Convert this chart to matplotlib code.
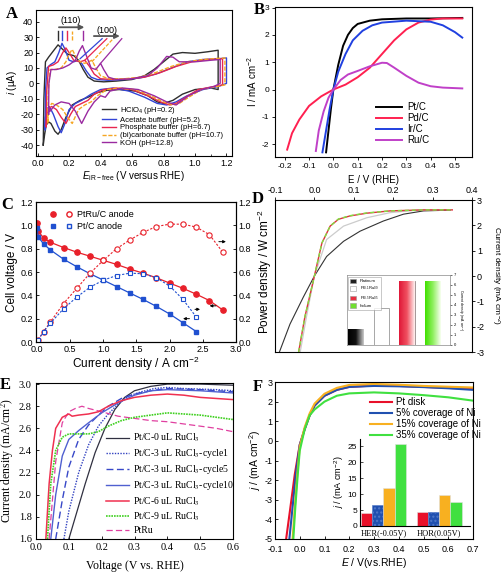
import matplotlib

matplotlib.use("Agg")

import matplotlib.pyplot as plt
import numpy as np
from matplotlib.colors import LinearSegmentedColormap
from matplotlib.font_manager import FontProperties
from matplotlib.legend_handler import HandlerTuple
from matplotlib.lines import Line2D
from matplotlib.patches import Patch
from matplotlib.ticker import FormatStrFormatter, MultipleLocator

SANS = "Liberation Sans"
SERIF = "Liberation Serif"
plt.rcParams["font.family"] = [SANS, "DejaVu Sans"]
plt.rcParams["mathtext.fontset"] = "custom"
plt.rcParams["mathtext.rm"] = SANS
plt.rcParams["mathtext.it"] = SANS + ":italic"
plt.rcParams["mathtext.bf"] = SANS + ":bold"
plt.rcParams["axes.unicode_minus"] = False
plt.rcParams["axes.linewidth"] = 0.8

# ---------------- A: CVs in different electrolytes (upper / lower branch)
a_labels = ["HClO$_4$ (pH=0.2)", "Acetate buffer (pH=5.2)", "Phosphate buffer (pH=6.7)",
            "(bi)carbonate buffer (pH=10.7)", "KOH (pH=12.8)"]
hclo4_x_up = [0.036, 0.04, 0.05, 0.07, 0.10, 0.13, 0.16, 0.19, 0.23, 0.26, 0.29, 0.32, 0.36, 0.42,
              0.50, 0.60, 0.68, 0.74, 0.80, 0.86, 0.92, 1.00, 1.08, 1.147]
hclo4_y_up = [-40, -10, 14, 17, 21, 25, 22, 19, 18, 15, 9, 4, 1.5, 1, 1.5, 2.5, 5, 9, 14, 19, 20,
              19.5, 20.5, 21.5]
hclo4_x_dn = [1.147, 1.10, 1.00, 0.92, 0.86, 0.80, 0.76, 0.70, 0.62, 0.52, 0.44, 0.38, 0.32, 0.27,
              0.22, 0.18, 0.15, 0.13, 0.11, 0.085, 0.07, 0.055, 0.045, 0.036]
hclo4_y_dn = [-4, -3, -4, -7, -11, -13, -12, -8, -5, -4, -4.5, -6, -9, -11, -14, -22, -30, -33,
              -31, -26, -25, -27, -33, -40]

acet_x_up = [0.048, 0.05, 0.06, 0.08, 0.11, 0.135, 0.155, 0.175, 0.20, 0.23, 0.26, 0.28, 0.31,
             0.34, 0.38, 0.45, 0.55, 0.65, 0.75, 0.85, 0.95, 1.05, 1.15, 1.20]
acet_y_up = [-30, -5, 10, 12, 14, 20, 26, 22, 15, 14, 15, 13, 8, 4, 2.5, 2, 2.5, 3.5, 6, 10, 14,
             15.5, 16, 16.5]
acet_x_dn = [1.20, 1.15, 1.05, 0.95, 0.88, 0.82, 0.76, 0.68, 0.58, 0.48, 0.40, 0.34, 0.28, 0.24,
             0.20, 0.17, 0.15, 0.13, 0.10, 0.08, 0.06, 0.05, 0.048]
acet_y_dn = [0, -2, -4, -8, -12, -14, -13, -9, -5, -3, -4, -7, -11, -13, -17, -27, -32, -28, -20,
             -16, -16, -22, -30]

phos_x_up = [0.055, 0.058, 0.07, 0.10, 0.13, 0.16, 0.18, 0.20, 0.23, 0.27, 0.30, 0.33, 0.36, 0.40,
             0.48, 0.58, 0.68, 0.78, 0.88, 0.98, 1.08, 1.175]
phos_y_up = [-28, -5, 11, 12, 14, 20, 23, 20, 15, 14, 15, 11, 6, 3, 2.5, 3, 4, 7, 11, 14, 15.5, 16]
phos_x_dn = [1.175, 1.12, 1.02, 0.94, 0.88, 0.84, 0.78, 0.70, 0.60, 0.50, 0.42, 0.36, 0.32, 0.28,
             0.24, 0.21, 0.18, 0.15, 0.12, 0.09, 0.07, 0.058, 0.055]
phos_y_dn = [-1, -2, -4, -9, -13, -14, -12, -8, -4, -3, -4, -7, -11, -13, -15, -20, -26, -22, -17,
             -15, -16, -22, -28]

carb_x_up = [0.065, 0.068, 0.08, 0.11, 0.15, 0.18, 0.20, 0.22, 0.24, 0.27, 0.30, 0.345, 0.37, 0.40,
             0.45, 0.55, 0.65, 0.75, 0.85, 0.95, 1.05, 1.19]
carb_y_up = [-26, -5, 9, 9, 10, 14, 19, 22, 18, 14, 13, 15, 10, 5, 3, 3, 4, 7, 11, 14, 15.5, 16.5]
carb_x_dn = [1.19, 1.14, 1.04, 0.96, 0.90, 0.86, 0.80, 0.72, 0.62, 0.52, 0.44, 0.38, 0.34, 0.30,
             0.26, 0.22, 0.19, 0.16, 0.12, 0.09, 0.07, 0.065]
carb_y_dn = [-1, -2, -4, -9, -13, -14, -12, -8, -4, -3, -4, -8, -12, -14, -17, -26, -22, -17, -14,
             -13, -16, -26]

koh_x_up = [0.07, 0.072, 0.085, 0.12, 0.16, 0.20, 0.24, 0.265, 0.285, 0.31, 0.34, 0.37, 0.40, 0.42,
            0.45, 0.50, 0.60, 0.70, 0.76, 0.82, 0.86, 0.90, 1.00, 1.10, 1.16]
koh_y_up = [-20, 0, 9, 9, 10, 12, 15, 21, 24.5, 18, 10, 9, 13, 9, 4, 2.5, 3, 5, 10, 17.5, 17, 14,
            14, 15, 15.5]
koh_x_dn = [1.16, 1.12, 1.04, 0.96, 0.92, 0.88, 0.82, 0.74, 0.64, 0.54, 0.46, 0.43, 0.40, 0.36,
            0.32, 0.28, 0.24, 0.20, 0.15, 0.11, 0.08, 0.072, 0.07]
koh_y_dn = [0, -2, -4, -8, -11, -14, -12, -8, -4, -3, -5, -9, -8, -12, -18, -26, -18, -13, -12,
            -14, -18, -15, -20]

peak110_x = [0.128, 0.155, 0.185, 0.22, 0.287]
guide100_x0 = [0.27, 0.30, 0.345, 0.40]
guide100_y0 = [16, 15, 14, 13]
guide100_x1 = [0.41, 0.44, 0.48, 0.535]
guide100_y1 = [29, 29, 29, 29]

# ---------------- B: HOR polarisation curves
b_labels = ["Pt/C", "Pd/C", "Ir/C", "Ru/C"]
pt_b_x = [-0.03, -0.02, -0.01, 0.0, 0.02, 0.04, 0.06, 0.08, 0.10, 0.15, 0.20, 0.30, 0.40, 0.53]
pt_b_y = [-2.3, -1.5, -0.7, 0.0, 0.9, 1.6, 2.0, 2.25, 2.4, 2.52, 2.57, 2.6, 2.6, 2.62]
pd_b_x = [-0.19, -0.17, -0.14, -0.10, -0.05, 0.0, 0.05, 0.10, 0.15, 0.20, 0.25, 0.30, 0.35, 0.40,
          0.45, 0.53]
pd_b_y = [-2.2, -1.6, -1.1, -0.6, -0.25, 0.0, 0.18, 0.45, 0.8, 1.3, 1.8, 2.2, 2.45, 2.56, 2.6, 2.6]
ir_b_x = [-0.045, -0.03, -0.015, 0.0, 0.02, 0.05, 0.08, 0.12, 0.16, 0.20, 0.30, 0.40, 0.45, 0.50,
          0.53]
ir_b_y = [-2.3, -1.5, -0.7, 0.0, 0.65, 1.3, 1.8, 2.15, 2.35, 2.45, 2.52, 2.48, 2.35, 2.1, 1.9]
ru_b_x = [-0.072, -0.06, -0.04, -0.02, 0.0, 0.03, 0.06, 0.10, 0.15, 0.20, 0.22, 0.25, 0.30, 0.35,
          0.40, 0.45, 0.53]
ru_b_y = [-2.25, -1.5, -0.8, -0.3, 0.0, 0.35, 0.55, 0.68, 0.85, 0.98, 0.97, 0.8, 0.5, 0.25, 0.12,
          0.07, 0.04]

# ---------------- C: fuel cell polarisation / power density
ptru_j = [0.0, 0.02, 0.1, 0.2, 0.4, 0.6, 0.8, 1.0, 1.2, 1.4, 1.6, 1.8, 2.0, 2.2, 2.4, 2.6, 2.8]
ptru_v = [1.02, 0.95, 0.89, 0.855, 0.81, 0.77, 0.735, 0.70, 0.665, 0.625, 0.59, 0.55, 0.505, 0.46,
          0.41, 0.355, 0.275]
ptru_pj = [0.02, 0.1, 0.2, 0.4, 0.6, 0.8, 1.0, 1.2, 1.4, 1.6, 1.8, 2.0, 2.2, 2.4, 2.6, 2.8]
ptru_p = [0.02, 0.09, 0.17, 0.33, 0.46, 0.59, 0.70, 0.80, 0.875, 0.94, 0.99, 1.01, 1.01, 0.985,
          0.92, 0.77]
ptc_j = [0.0, 0.02, 0.1, 0.2, 0.4, 0.6, 0.8, 1.0, 1.2, 1.4, 1.6, 1.8, 2.0, 2.2, 2.4]
ptc_v = [0.98, 0.90, 0.84, 0.79, 0.71, 0.645, 0.585, 0.53, 0.475, 0.42, 0.365, 0.305, 0.24, 0.165,
         0.09]
ptc_pj = [0.02, 0.1, 0.2, 0.4, 0.6, 0.8, 1.0, 1.2, 1.4, 1.6, 1.8, 2.0, 2.2, 2.4]
ptc_p = [0.02, 0.09, 0.16, 0.285, 0.385, 0.47, 0.53, 0.57, 0.59, 0.585, 0.55, 0.48, 0.365, 0.215]
c_arrow_x0 = [2.74, 2.70, 2.34, 2.34]
c_arrow_x1 = [2.56, 2.89, 2.50, 2.16]
c_arrow_y = [0.31, 0.86, 0.28, 0.20]

# ---------------- D: HOR curves + inset bar chart
plat_d_x = [-0.09, -0.062, -0.028, 0.0, 0.031, 0.074, 0.116, 0.175, 0.226, 0.277, 0.345]
plat_d_y = [-3.05, -1.9, -0.83, 0.0, 0.77, 1.37, 1.77, 2.17, 2.44, 2.57, 2.6]
ptru19_d_x = [-0.036, -0.02, 0.0, 0.031, 0.074, 0.133, 0.192, 0.26, 0.345]
ptru19_d_y = [-3.0, -1.6, 0.0, 1.44, 1.97, 2.3, 2.5, 2.6, 2.62]
ptru55_d_x = [-0.04, -0.024, 0.0, 0.019, 0.04, 0.061, 0.09, 0.133, 0.192, 0.277, 0.35]
ptru55_d_y = [-3.0, -1.6, 0.0, 1.3, 1.97, 2.24, 2.37, 2.48, 2.57, 2.61, 2.61]
irid_d_y = [-3.0, -1.6, 0.0, 1.3, 1.97, 2.25, 2.38, 2.49, 2.57, 2.61, 2.61]
d_bar_labels = ["Platinum", "Pt$_{0.1}$Ru$_{0.9}$", "Pt$_{0.5}$Ru$_{0.5}$", "Iridium"]
d_bar_values = [1.6, 3.7, 6.45, 6.45]

# ---------------- E: Pt/C with RuCl3
e_labels = ["Pt/C-0 uL RuCl$_3$", "Pt/C-3 uL RuCl$_3$-cycle1", "Pt/C-3 uL RuCl$_3$-cycle5",
            "Pt/C-3 uL RuCl$_3$-cycle10", "Pt/C-6 uL RuCl$_3$", "Pt/C-9 uL RuCl$_3$", "PtRu"]
e0_x = [0.10, 0.12, 0.15, 0.18, 0.21, 0.24, 0.27, 0.30, 0.35, 0.40, 0.45, 0.50, 0.55, 0.60]
e0_y = [1.6, 1.8, 2.1, 2.38, 2.6, 2.77, 2.88, 2.94, 2.98, 3.0, 3.0, 3.0, 2.995, 2.99]
e1_x = [0.085, 0.10, 0.13, 0.16, 0.19, 0.22, 0.25, 0.28, 0.32, 0.36, 0.40, 0.45, 0.50, 0.55, 0.60]
e1_y = [1.6, 1.85, 2.2, 2.45, 2.62, 2.73, 2.82, 2.89, 2.93, 2.96, 2.97, 2.96, 2.955, 2.95, 2.94]
e5_x = [0.06, 0.08, 0.10, 0.13, 0.16, 0.19, 0.22, 0.26, 0.30, 0.35, 0.40, 0.50, 0.60]
e5_y = [1.6, 1.95, 2.25, 2.5, 2.63, 2.72, 2.8, 2.87, 2.91, 2.94, 2.96, 2.95, 2.93]
e10_x = [0.045, 0.06, 0.08, 0.10, 0.13, 0.16, 0.20, 0.25, 0.30, 0.35, 0.40, 0.50, 0.60]
e10_y = [1.6, 2.0, 2.35, 2.5, 2.58, 2.65, 2.74, 2.83, 2.9, 2.94, 2.95, 2.94, 2.92]
e6_x = [0.03, 0.04, 0.05, 0.06, 0.08, 0.10, 0.11, 0.13, 0.16, 0.19, 0.22, 0.26, 0.30, 0.35, 0.40,
        0.45, 0.50, 0.55, 0.60]
e6_y = [1.6, 2.1, 2.4, 2.6, 2.7, 2.73, 2.71, 2.72, 2.73, 2.75, 2.8, 2.85, 2.88, 2.9, 2.91, 2.9,
        2.88, 2.87, 2.86]
e9_x = [0.035, 0.045, 0.06, 0.08, 0.10, 0.13, 0.16, 0.19, 0.22, 0.26, 0.30, 0.35, 0.40, 0.45, 0.50,
        0.55, 0.60]
e9_y = [1.6, 2.1, 2.4, 2.52, 2.55, 2.55, 2.55, 2.57, 2.62, 2.67, 2.7, 2.72, 2.74, 2.73, 2.72, 2.7,
        2.68]
eru_x = [0.04, 0.06, 0.08, 0.10, 0.12, 0.14, 0.16, 0.20, 0.25, 0.30, 0.35, 0.40, 0.45, 0.50, 0.55,
         0.60]
eru_y = [1.6, 2.3, 2.65, 2.75, 2.78, 2.8, 2.78, 2.75, 2.71, 2.69, 2.67, 2.66, 2.64, 2.62, 2.6, 2.57]

# ---------------- F: Ni-modified Pt disk + inset bars
f_labels = ["Pt disk", "5% coverage of Ni", "15% coverage of Ni", "35% coverage of Ni"]
f_x = [-0.055, -0.04, -0.02, 0.0, 0.02, 0.04, 0.06, 0.10, 0.15, 0.20, 0.30, 0.40, 0.50, 0.60, 0.70]
fpt_y = [-5.0, -3.6, -1.7, -0.2, 0.6, 1.3, 1.8, 2.3, 2.6, 2.75, 2.82, 2.8, 2.75, 2.7, 2.65]
f5_x = [-0.042, -0.03, -0.015, 0.0, 0.02, 0.04, 0.06, 0.10, 0.15, 0.20, 0.30, 0.40, 0.50, 0.60, 0.70]
f5_y = [-5.0, -3.5, -1.6, -0.2, 0.6, 1.3, 1.8, 2.3, 2.6, 2.75, 2.8, 2.78, 2.74, 2.68, 2.6]
f15_x = [-0.029, -0.02, -0.01, 0.0, 0.02, 0.04, 0.06, 0.10, 0.15, 0.20, 0.30, 0.40, 0.50, 0.60, 0.70]
f15_y = [-5.0, -3.4, -1.7, -0.3, 0.7, 1.4, 1.9, 2.4, 2.7, 2.85, 2.9, 2.86, 2.8, 2.76, 2.72]
f35_x = [-0.026, -0.018, -0.008, 0.0, 0.02, 0.04, 0.06, 0.10, 0.15, 0.20, 0.30, 0.40, 0.50, 0.60, 0.70]
f35_y = [-5.0, -3.4, -1.7, -0.5, 0.6, 1.3, 1.6, 2.0, 2.3, 2.42, 2.47, 2.42, 2.33, 2.22, 2.05]
f_inset_groups = ["HER(-0.05V)", "HOR(0.05V)"]
f_inset_pt = [4.0, 4.3]
f_inset_5 = [6.7, 4.5]
f_inset_15 = [11.9, 9.7]
f_inset_35 = [25.8, 7.6]

W, H = 501, 576
fig = plt.figure(figsize=(W / 100, H / 100), dpi=100)
fig.patch.set_facecolor("white")


def box(x0, y0, x1, y1):
    return [x0 / W, 1 - y1 / H, (x1 - x0) / W, (y1 - y0) / H]


def at(px, py):
    return (px / W, 1 - py / H)


def panel_letter(px, py, letter):
    fig.text(*at(px, py), letter, family=SERIF, fontweight="bold", fontsize=12,
             ha="center", va="center")


# ---------------- panel A
axA = fig.add_axes(box(36, 10, 232, 156))
a_colors = ["#2e2e2e", "#3344d6", "#e8264f", "#f5a623", "#9a2aa0"]
a_styles = ["-", "-", "-", (0, (3, 1.2)), "-"]
a_series = [(hclo4_x_up, hclo4_y_up, hclo4_x_dn, hclo4_y_dn),
            (acet_x_up, acet_y_up, acet_x_dn, acet_y_dn),
            (phos_x_up, phos_y_up, phos_x_dn, phos_y_dn),
            (carb_x_up, carb_y_up, carb_x_dn, carb_y_dn),
            (koh_x_up, koh_y_up, koh_x_dn, koh_y_dn)]
for (xu, yu, xd, yd), color, ls, label in zip(a_series, a_colors, a_styles, a_labels):
    axA.plot(xu + xd, yu + yd, color=color, ls=ls, lw=1.0, label=label)
for x, color, ls in zip(peak110_x, a_colors, a_styles):
    axA.plot([x, x], [28, 34], color=color, ls=ls, lw=1.0)
for x0, y0, x1, y1, color, ls in zip(guide100_x0, guide100_y0, guide100_x1, guide100_y1,
                                     a_colors[1:], a_styles[1:]):
    axA.plot([x0, x1], [y0, y1], color=color, ls=ls, lw=0.9)
axA.annotate("", xy=(0.315, 36.4), xytext=(0.118, 36.4),
             arrowprops=dict(arrowstyle="-|>", color="#555555", lw=1.3, mutation_scale=7))
axA.annotate("", xy=(0.54, 30.7), xytext=(0.34, 30.7),
             arrowprops=dict(arrowstyle="-|>", color="#555555", lw=1.3, mutation_scale=7))
axA.text(0.21, 40.5, "(110)", fontsize=6.5, ha="center", va="center")
axA.text(0.44, 34.5, "(100)", fontsize=6.5, ha="center", va="center")
axA.set_xlim(-0.01, 1.235)
axA.set_ylim(-47.1, 47.6)
axA.xaxis.set_major_locator(MultipleLocator(0.2))
axA.xaxis.set_minor_locator(MultipleLocator(0.1))
axA.xaxis.set_major_formatter(FormatStrFormatter("%.1f"))
axA.yaxis.set_major_locator(MultipleLocator(10))
axA.tick_params(labelsize=6.5, direction="in", length=2.5, width=0.6, pad=2)
axA.tick_params(which="minor", direction="in", length=1.5, width=0.5)
axA.set_xlabel("$E_{\\mathrm{iR-free}}$ (V versus RHE)", fontsize=7, labelpad=1)
axA.set_ylabel("$i$ (μA)", fontsize=7, labelpad=1)
axA.legend(loc="upper left", bbox_to_anchor=at(102, 105), bbox_transform=fig.transFigure,
           frameon=False, fontsize=5.5, handlelength=1.8, handletextpad=0.5, labelspacing=0.05,
           borderaxespad=0, borderpad=0)
panel_letter(12, 14, "A")

# ---------------- panel B
axB = fig.add_axes(box(275, 7, 472, 157))
b_series = [(pt_b_x, pt_b_y, "#000000"), (pd_b_x, pd_b_y, "#ff2050"),
            (ir_b_x, ir_b_y, "#2040e0"), (ru_b_x, ru_b_y, "#c040c8")]
for (x, y, color), label in zip(b_series, b_labels):
    axB.plot(x, y, color=color, lw=1.4, label=label)
axB.set_xlim(-0.24, 0.57)
axB.set_ylim(-2.47, 3.02)
axB.xaxis.set_major_locator(MultipleLocator(0.1))
axB.xaxis.set_major_formatter(FormatStrFormatter("%.1f"))
axB.yaxis.set_major_locator(MultipleLocator(1))
axB.tick_params(labelsize=6, direction="out", length=2, width=0.6, pad=2)
axB.set_xlabel("E / V (RHE)", fontsize=7, labelpad=4)
axB.set_ylabel("I / mA cm$^{-2}$", fontsize=7, labelpad=2)
axB.legend(loc="upper left", bbox_to_anchor=at(376, 102), bbox_transform=fig.transFigure,
           frameon=False, fontsize=7, handlelength=2.7, handletextpad=0.5, labelspacing=0.1,
           borderaxespad=0, borderpad=0)
panel_letter(259, 10, "B")

# ---------------- panel C
axC = fig.add_axes(box(36, 202, 236, 342))
axC2 = axC.twinx()
red_c, blue_c = "#e8202a", "#2050d0"
axC.plot(ptru_j, ptru_v, color=red_c, lw=0.9, marker="o", ms=3.8, mec=red_c, mfc=red_c)
axC.plot(ptc_j, ptc_v, color=blue_c, lw=0.9, marker="s", ms=3.5, mec=blue_c, mfc=blue_c)
axC2.plot(ptru_pj, ptru_p, color=red_c, lw=0.8, ls=(0, (2, 1.5)), marker="o", ms=3.8, mec=red_c,
          mfc="white", mew=0.8)
axC2.plot(ptc_pj, ptc_p, color=blue_c, lw=0.8, ls=(0, (2, 1.5)), marker="s", ms=3.5, mec=blue_c,
          mfc="white", mew=0.8)
for x0, x1, y in zip(c_arrow_x0, c_arrow_x1, c_arrow_y):
    axC.annotate("", xy=(x1, y), xytext=(x0, y),
                 arrowprops=dict(arrowstyle="-|>", color="black", lw=0.7, mutation_scale=4))
for a in (axC, axC2):
    a.set_xlim(-0.015, 3.0)
    a.set_ylim(0, 1.2)
    a.yaxis.set_major_locator(MultipleLocator(0.2))
    a.yaxis.set_major_formatter(FormatStrFormatter("%.1f"))
    a.tick_params(labelsize=6.5, direction="in", length=2.5, width=0.6, pad=2)
axC.xaxis.set_major_locator(MultipleLocator(0.5))
axC.xaxis.set_major_formatter(FormatStrFormatter("%.1f"))
axC.set_xlabel("Current density / A cm$^{-2}$", fontsize=8.5, labelpad=1)
axC.set_ylabel("Cell voltage / V", fontsize=8.5, labelpad=2)
axC2.set_ylabel("Power density / W cm$^{-2}$", fontsize=8.5, labelpad=3)
h_ptru = (Line2D([], [], ls="none", marker="o", ms=3.8, color=red_c),
          Line2D([], [], ls="none", marker="o", ms=3.8, mec=red_c, mfc="white"))
h_ptc = (Line2D([], [], ls="none", marker="s", ms=3.5, color=blue_c),
         Line2D([], [], ls="none", marker="s", ms=3.5, mec=blue_c, mfc="white"))
axC.legend([h_ptru, h_ptc], ["PtRu/C anode", "Pt/C anode"],
           handler_map={tuple: HandlerTuple(ndivide=None, pad=1.2)},
           loc="upper left", bbox_to_anchor=at(50, 210), bbox_transform=fig.transFigure,
           frameon=False, fontsize=6.5, handlelength=2.4, handletextpad=0.6, labelspacing=0.3,
           borderaxespad=0, borderpad=0)
panel_letter(7, 205, "C")

# ---------------- panel D
axD = fig.add_axes(box(275, 200, 472, 352))
axD.plot(plat_d_x, plat_d_y, color="#333333", lw=0.8)
axD.plot(ptru19_d_x, ptru19_d_y, color="#cccccc", lw=0.9)
axD.plot(ptru55_d_x, ptru55_d_y, color="#e03040", lw=1.0)
axD.plot(ptru55_d_x, irid_d_y, color="#80e040", lw=1.0, ls=(0, (3, 2)))
axD.set_xlim(-0.1, 0.4)
axD.set_ylim(-3, 3)
axD.xaxis.tick_top()
axD.yaxis.tick_right()
axD.yaxis.set_label_position("right")
axD.xaxis.set_major_locator(MultipleLocator(0.1))
axD.xaxis.set_major_formatter(FormatStrFormatter("%.1f"))
axD.yaxis.set_major_locator(MultipleLocator(1))
axD.tick_params(labelsize=6.5, direction="out", length=2, width=0.6, pad=1.5)
axD.set_ylabel("Current density (mA cm$^{-2}$)", fontsize=6, rotation=270, va="center",
               ha="center")
axD.yaxis.set_label_coords(1.118, 0.5)

axDi = fig.add_axes(box(347, 275, 450, 345))
cmaps = [LinearSegmentedColormap.from_list("k", ["#000000", "#111111", "#cccccc"]),
         None,
         LinearSegmentedColormap.from_list("r", ["#e01838", "#f05060", "#fff0f0"]),
         LinearSegmentedColormap.from_list("g", ["#40e000", "#90f060", "#f8fff0"])]
bar_faces = ["#222222", "white", "#e83040", "#70e030"]
bars = axDi.bar(range(len(d_bar_values)), d_bar_values, width=0.6, color=bar_faces,
                edgecolor="#999999", linewidth=0.6)
for patch, cmap in zip(bars.patches, cmaps):
    if cmap is None:
        continue
    x0, w, h = patch.get_x(), patch.get_width(), patch.get_height()
    im = axDi.imshow(np.linspace(0, 1, 64).reshape(1, -1), extent=(x0, x0 + w, 0, h), cmap=cmap,
                     aspect="auto", zorder=patch.get_zorder() + 0.1)
    im.set_clip_path(patch)
axDi.set_xlim(-0.33, 3.67)
axDi.set_ylim(0, 7)
axDi.set_xticks([])
axDi.yaxis.tick_right()
axDi.yaxis.set_label_position("right")
axDi.yaxis.set_major_locator(MultipleLocator(1))
axDi.tick_params(labelsize=3, length=1.5, width=0.4, pad=1)
for s in axDi.spines.values():
    s.set_linewidth(0.5)
    s.set_color("#888888")
axDi.set_ylabel("Current density (mA cm$^{-2}$)", fontsize=2.5, rotation=270, labelpad=6)
d_handles = [Patch(facecolor=c, edgecolor="#999999", lw=0.4) for c in bar_faces]
axDi.legend(d_handles, d_bar_labels, loc="upper left", bbox_to_anchor=at(348, 277),
            bbox_transform=fig.transFigure, fontsize=3, frameon=True, fancybox=False,
            edgecolor="#888888", handlelength=1.6, handleheight=1.2, labelspacing=0.4,
            borderpad=0.4, borderaxespad=0).get_frame().set_linewidth(0.4)
panel_letter(258, 199, "D")

# ---------------- panel E
serif_fp = lambda size: FontProperties(family=SERIF, size=size, math_fontfamily="stix")
axE = fig.add_axes(box(36, 383, 233, 539))
# drawing order: PtRu under the Pt/C-6 and Pt/C-9 curves
e_series = [(e0_x, e0_y, "#303040", "-", 0.9), (e1_x, e1_y, "#3040c0", (0, (1, 1)), 1.0),
            (e5_x, e5_y, "#3848c8", (0, (5, 2.5)), 1.0), (e10_x, e10_y, "#5060d0", "-", 1.0),
            (eru_x, eru_y, "#e040a0", (0, (5, 2.5)), 0.9), (e6_x, e6_y, "#f03050", "-", 1.1),
            (e9_x, e9_y, "#40d020", (0, (1, 0.6)), 1.2)]
lines_e = []
for x, y, color, ls, lw in e_series:
    lines_e.append(axE.plot(x, y, color=color, ls=ls, lw=lw)[0])
legend_lines = [lines_e[0], lines_e[1], lines_e[2], lines_e[3], lines_e[5], lines_e[6], lines_e[4]]
axE.set_xlim(0, 0.6)
axE.set_ylim(1.6, 3.01)
axE.xaxis.set_major_locator(MultipleLocator(0.1))
axE.yaxis.set_major_locator(MultipleLocator(0.2))
axE.xaxis.set_major_formatter(FormatStrFormatter("%.1f"))
axE.yaxis.set_major_formatter(FormatStrFormatter("%.1f"))
axE.tick_params(labelsize=7.5, direction="in", length=2.5, width=0.6, pad=3)
for lab in axE.get_xticklabels() + axE.get_yticklabels():
    lab.set_fontproperties(serif_fp(7.5))
axE.set_xlabel("Voltage (V vs. RHE)", fontproperties=serif_fp(8.5), labelpad=6)
axE.set_ylabel("Current density (mA/cm$^2$)", fontproperties=serif_fp(8.5), labelpad=2)
axE.legend(legend_lines, e_labels, loc="upper left",
           bbox_to_anchor=at(106, 432), bbox_transform=fig.transFigure, frameon=False,
           prop=serif_fp(7), handlelength=2.4, handletextpad=0.4, labelspacing=0.3,
           borderaxespad=0, borderpad=0)
panel_letter(5, 385, "E")

# ---------------- panel F
axF = fig.add_axes(box(275, 382, 473, 539))
f_colors = ["#e8102a", "#2050b0", "#f8b020", "#40e040"]
for x, y, color, label in zip([f_x, f5_x, f15_x, f35_x], [fpt_y, f5_y, f15_y, f35_y], f_colors,
                              f_labels):
    axF.plot(x, y, color=color, lw=1.5, label=label)
axF.set_xlim(-0.1, 0.7)
axF.set_ylim(-5, 3)
axF.xaxis.set_major_locator(MultipleLocator(0.1))
axF.xaxis.set_major_formatter(FormatStrFormatter("%.1f"))
axF.yaxis.set_major_locator(MultipleLocator(1))
axF.tick_params(labelsize=6.5, direction="in", length=2, width=0.6, pad=2)
axF.tick_params(axis="x", pad=4)
axF.set_xlabel("$E$ / V(vs.RHE)", fontsize=7.5, labelpad=2)
axF.set_ylabel("$j$ / (mA cm$^{-2}$)", fontsize=7.5, labelpad=1)
axF.legend(loc="upper left", bbox_to_anchor=at(370, 397), bbox_transform=fig.transFigure,
           frameon=False, fontsize=7, handlelength=2.3, handletextpad=0.4, labelspacing=0.1,
           borderaxespad=0, borderpad=0)

axFi = fig.add_axes(box(360, 439, 470, 526))
groups = np.arange(len(f_inset_groups))
inset_edges = ["#e0e0e0", "#5078c8", "#e0e0e0", "#e0e0e0"]
for k, (vals, color, edge) in enumerate(zip([f_inset_pt, f_inset_5, f_inset_15, f_inset_35],
                                            f_colors, inset_edges)):
    axFi.bar(groups + (k - 1.5) * 0.2, vals, width=0.2, color=color, edgecolor=edge,
             linewidth=0.4, hatch="...." if k == 1 else None)
axFi.set_xlim(-0.42, 1.55)
axFi.set_ylim(0, 27.3)
axFi.set_xticks(groups)
axFi.set_xticklabels(f_inset_groups, fontproperties=serif_fp(6.5))
axFi.yaxis.set_major_locator(MultipleLocator(5))
axFi.tick_params(labelsize=6, direction="in", length=2, width=0.5, pad=2)
axFi.tick_params(axis="x", length=0)
axFi.spines["top"].set_visible(False)
axFi.spines["right"].set_visible(False)
axFi.patch.set_alpha(0)
axFi.set_ylabel("$j$ / (mA cm$^{-2}$)", fontsize=6.5, labelpad=1)
panel_letter(258, 387, "F")

fig.savefig("out.png", dpi=100, facecolor="white")
